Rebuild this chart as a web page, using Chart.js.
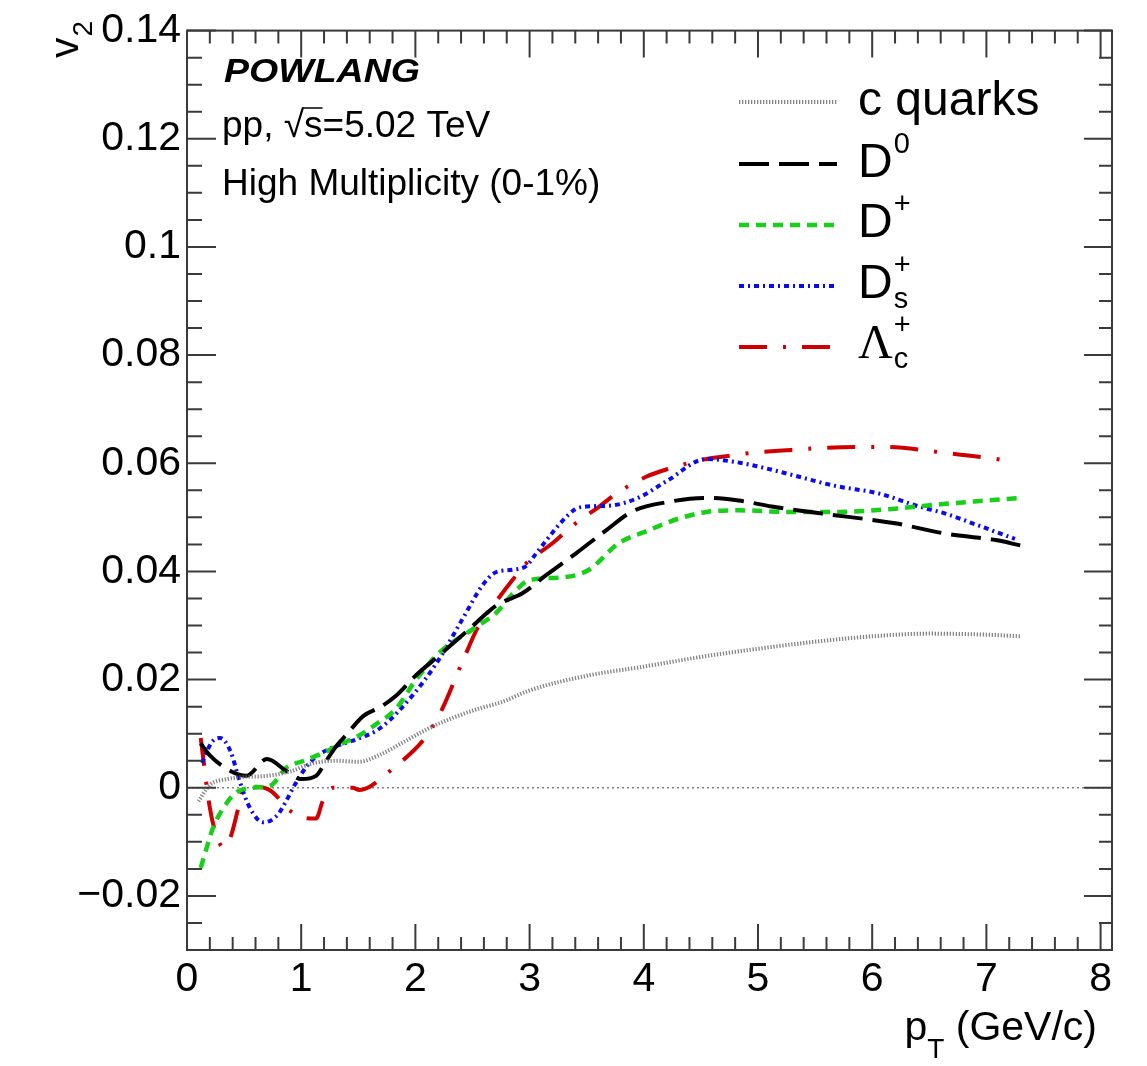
<!DOCTYPE html>
<html>
<head>
<meta charset="utf-8">
<script src="https://cdn.jsdelivr.net/npm/chart.js@4.4.1/dist/chart.umd.min.js"></script>
<style>
  html, body { margin: 0; padding: 0; background: #fff; }
  #wrap { width: 1147px; height: 1066px; }
</style>
</head>
<body>
<div id="wrap"><canvas id="v2Chart" width="1147" height="1066"></canvas></div>
<script>
// elliptic flow v2 vs pT: charm quarks and charm hadrons, pp 5.02 TeV high multiplicity

const cQuarkPt = [0.1, 0.2, 0.35, 0.5, 0.7, 0.9, 1.1, 1.3, 1.5, 1.7, 1.9, 2.1, 2.3, 2.55, 2.75, 3.0, 3.5, 4.0, 4.5, 5.0, 5.5, 6.0, 6.5, 7.0, 7.3];
const cQuarkV2 = [-0.0025, 0.0005, 0.0016, 0.002, 0.0022, 0.003, 0.0045, 0.005, 0.0048, 0.0062, 0.0085, 0.0108, 0.0127, 0.0146, 0.0158, 0.018, 0.0207, 0.0224, 0.0242, 0.0257, 0.027, 0.028, 0.0285, 0.0283, 0.028];

const d0Pt = [0.12, 0.2, 0.38, 0.52, 0.7, 0.87, 1.0, 1.13, 1.22, 1.3, 1.4, 1.54, 1.7, 1.83, 2.01, 2.21, 2.47, 2.71, 2.94, 3.15, 3.41, 3.67, 3.9, 4.2, 4.55, 4.83, 5.12, 5.56, 6.2, 6.64, 7.08, 7.3];
const d0V2 = [0.0082, 0.006, 0.0031, 0.0022, 0.0053, 0.0031, 0.0016, 0.0022, 0.005, 0.0075, 0.0099, 0.0132, 0.015, 0.017, 0.0209, 0.0245, 0.0293, 0.0337, 0.036, 0.0394, 0.0434, 0.0476, 0.0511, 0.0528, 0.0536, 0.0531, 0.052, 0.0507, 0.0489, 0.047, 0.0458, 0.0448];

const dPlusPt = [0.12, 0.23, 0.32, 0.43, 0.58, 0.73, 0.87, 1.01, 1.19, 1.34, 1.51, 1.66, 1.83, 2.01, 2.21, 2.5, 2.71, 2.88, 3.0, 3.29, 3.52, 3.78, 4.02, 4.31, 4.55, 4.83, 5.27, 5.71, 6.2, 6.64, 7.0, 7.3];
const dPlusV2 = [-0.0148, -0.0073, -0.0037, -0.0009, 0.0, 0.0004, 0.0037, 0.0049, 0.0064, 0.008, 0.0097, 0.0118, 0.0146, 0.0201, 0.025, 0.0293, 0.0324, 0.0365, 0.0384, 0.0389, 0.0403, 0.0452, 0.0474, 0.0498, 0.051, 0.0513, 0.051, 0.051, 0.0516, 0.0525, 0.0531, 0.0536];

const dsPt = [0.13, 0.22, 0.29, 0.38, 0.46, 0.55, 0.67, 0.79, 0.87, 0.94, 1.05, 1.16, 1.31, 1.49, 1.69, 1.98, 2.19, 2.41, 2.59, 2.7, 2.85, 2.97, 3.06, 3.29, 3.4, 3.5, 3.72, 3.96, 4.2, 4.55, 4.75, 4.98, 5.27, 5.68, 6.06, 6.41, 6.64, 6.93, 7.25];
const dsV2 = [0.0046, 0.0085, 0.0092, 0.0068, 0.0013, -0.0037, -0.0064, -0.0051, -0.0024, 0.0004, 0.004, 0.0062, 0.0077, 0.009, 0.011, 0.0172, 0.0232, 0.0311, 0.0375, 0.0398, 0.0403, 0.041, 0.0434, 0.0494, 0.0515, 0.052, 0.0522, 0.0537, 0.0567, 0.0608, 0.0604, 0.0595, 0.058, 0.0558, 0.0544, 0.052, 0.0507, 0.0485, 0.046];

const lambdaPt = [0.12, 0.2, 0.26, 0.32, 0.38, 0.45, 0.5, 0.6, 0.73, 0.9, 1.01, 1.13, 1.19, 1.28, 1.45, 1.51, 1.6, 1.8, 1.95, 2.06, 2.21, 2.41, 2.56, 2.68, 2.85, 2.97, 3.2, 3.38, 3.61, 3.76, 4.02, 4.22, 4.55, 4.72, 4.98, 5.18, 5.53, 5.9, 6.12, 6.61, 7.08, 7.25];
const lambdaV2 = [0.0092, -0.0037, -0.009, -0.011, -0.0092, -0.0037, 0.0002, 0.0002, -0.0005, -0.0042, -0.0055, -0.0057, -0.0024, 0.0, 0.0, -0.0004, 0.0002, 0.0035, 0.0062, 0.0086, 0.0135, 0.0232, 0.0302, 0.0337, 0.0384, 0.0415, 0.0452, 0.0485, 0.052, 0.0544, 0.0575, 0.059, 0.0608, 0.0613, 0.062, 0.0623, 0.0628, 0.063, 0.063, 0.062, 0.0608, 0.0602];

const xTicks = [0, 1, 2, 3, 4, 5, 6, 7, 8];
const xTickLabels = ['0', '1', '2', '3', '4', '5', '6', '7', '8'];
const yTicks = [-0.02, 0, 0.02, 0.04, 0.06, 0.08, 0.1, 0.12, 0.14];
const yTickLabels = ['\u22120.02', '0', '0.02', '0.04', '0.06', '0.08', '0.1', '0.12', '0.14'];

const seriesNames = ['c quarks', 'D', 'D', 'D', '\u039b'];
const seriesSup = ['', '0', '+', '+', '+'];
const seriesSub = ['', '', '', 's', 'c'];

const SANS = '"Liberation Sans", Arial, Helvetica, sans-serif';
const SERIF = '"Liberation Serif", "DejaVu Serif", serif';

function toPoints(xs, ys) {
  return xs.map((x, i) => ({ x: x, y: ys[i] }));
}

// draws "Name^{sup}_{sub}" the way ROOT latex does
function drawRich(ctx, x, base, name, sup, sub, size) {
  ctx.font = (name === '\u039b' ? size + 'px ' + SERIF : size + 'px ' + SANS);
  ctx.fillText(name, x, base);
  const w = ctx.measureText(name).width;
  ctx.font = Math.round(size * 0.6) + 'px ' + SANS;
  if (sup) ctx.fillText(sup, x + w + 1, base - 24);
  if (sub) ctx.fillText(sub, x + w + 1, base + 10);
}

const rootFrame = {
  id: 'rootFrame',
  beforeDatasetsDraw(chart) {
    const { ctx, chartArea } = chart;
    const y0 = chart.scales.y.getPixelForValue(0);
    ctx.save();
    ctx.strokeStyle = '#808080';
    ctx.lineWidth = 1.5;
    ctx.setLineDash([2, 3]);
    ctx.beginPath();
    ctx.moveTo(chartArea.left, y0);
    ctx.lineTo(chartArea.right, y0);
    ctx.stroke();
    ctx.restore();
  },
  afterDraw(chart) {
    const { ctx, chartArea } = chart;
    const { left, right, top, bottom } = chartArea;
    const xs = chart.scales.x, ys = chart.scales.y;
    ctx.save();

    // frame
    ctx.strokeStyle = '#3a3a3a';
    ctx.lineWidth = 2;
    ctx.strokeRect(left, top, right - left, bottom - top);

    // inward ticks on all four sides
    ctx.beginPath();
    for (let k = 0; k <= 40; k++) {
      const px = xs.getPixelForValue(k * 0.2);
      const major = k % 5 === 0;
      ctx.moveTo(px, bottom); ctx.lineTo(px, bottom - (major ? 26 : 13));
      ctx.moveTo(px, top); ctx.lineTo(px, top + (major ? 27 : 13));
    }
    for (let k = -6; k <= 28; k++) {
      const py = ys.getPixelForValue(k * 0.005);
      const major = k % 4 === 0;
      ctx.moveTo(left, py); ctx.lineTo(left + (major ? 29 : 15), py);
      ctx.moveTo(right, py); ctx.lineTo(right - (major ? 28 : 13), py);
    }
    ctx.stroke();

    ctx.fillStyle = '#000';
    ctx.textAlign = 'left';
    ctx.textBaseline = 'alphabetic';

    // model label and collision system
    ctx.save();
    ctx.font = 'italic bold 33px ' + SANS;
    const wPow = ctx.measureText('POWLANG').width;
    ctx.translate(224, 82);
    ctx.scale(196 / wPow, 1);
    ctx.fillText('POWLANG', 0, 0);
    ctx.restore();

    ctx.font = '37px ' + SANS;
    ctx.fillText('pp, \u221as=5.02 TeV', 222, 137);
    const sx0 = 222 + ctx.measureText('pp, \u221a').width;
    const sx1 = 222 + ctx.measureText('pp, \u221as').width;
    ctx.lineWidth = 1.5;
    ctx.strokeStyle = '#000';
    ctx.setLineDash([]);
    ctx.beginPath();
    ctx.moveTo(sx0 - 2, 108); ctx.lineTo(sx1, 108);
    ctx.stroke();
    ctx.fillText('High Multiplicity (0-1%)', 222, 195);

    // legend
    const rowLine = [102, 164, 225, 286, 347];
    const rowBase = [115, 177, 237, 298, 358];
    chart.data.datasets.forEach((ds, i) => {
      ctx.save();
      ctx.strokeStyle = ds.borderColor;
      ctx.lineWidth = ds.borderWidth;
      ctx.setLineDash(ds.borderDash || []);
      ctx.beginPath();
      ctx.moveTo(739, rowLine[i]); ctx.lineTo(837, rowLine[i]);
      ctx.stroke();
      ctx.restore();
      drawRich(ctx, 858, rowBase[i], seriesNames[i], seriesSup[i], seriesSub[i], 48);
    });

    // x title: p_T (GeV/c), right aligned to the axis end
    ctx.font = '41px ' + SANS;
    const wp = ctx.measureText('p').width;
    const rest = ' (GeV/c)';
    const wRest = ctx.measureText(rest).width;
    ctx.font = '28px ' + SANS;
    const wT = ctx.measureText('T').width;
    const tx = 1097 - (wp + wT + wRest);
    ctx.font = '41px ' + SANS;
    ctx.fillText('p', tx, 1040);
    ctx.font = '28px ' + SANS;
    ctx.fillText('T', tx + wp, 1058);
    ctx.font = '41px ' + SANS;
    ctx.fillText(rest, tx + wp + wT, 1040);

    // y title: v_2, rotated
    ctx.save();
    ctx.translate(78, 58);
    ctx.rotate(-Math.PI / 2);
    ctx.font = '41px ' + SANS;
    ctx.fillText('v', 0, 0);
    const wv = ctx.measureText('v').width;
    ctx.font = '28px ' + SANS;
    ctx.fillText('2', wv + 1, 14);
    ctx.restore();

    ctx.restore();
  }
};

const ctx = document.getElementById('v2Chart').getContext('2d');
new Chart(ctx, {
  type: 'line',
  data: {
    datasets: [
      {
        label: 'c quarks',
        data: toPoints(cQuarkPt, cQuarkV2),
        borderColor: 'rgba(110,110,110,0.85)',
        borderWidth: 4,
        borderDash: [1.3, 1.7]
      },
      {
        label: 'D0',
        data: toPoints(d0Pt, d0V2),
        borderColor: '#000000',
        borderWidth: 4,
        borderDash: [30, 10]
      },
      {
        label: 'D+',
        data: toPoints(dPlusPt, dPlusV2),
        borderColor: '#19d019',
        borderWidth: 4.5,
        borderDash: [10, 7]
      },
      {
        label: 'Ds+',
        data: toPoints(dsPt, dsV2),
        borderColor: '#0a0af0',
        borderWidth: 4,
        borderDash: [5, 4, 2, 4]
      },
      {
        label: 'Lc+',
        data: toPoints(lambdaPt, lambdaV2),
        borderColor: '#d00000',
        borderWidth: 4,
        borderDash: [28, 16, 3, 16]
      }
    ]
  },
  options: {
    responsive: false,
    animation: false,
    devicePixelRatio: 1,
    parsing: false,
    elements: {
      point: { radius: 0, hoverRadius: 0 },
      line: { cubicInterpolationMode: 'monotone', fill: false }
    },
    layout: { padding: { top: 22, right: 35, left: 0, bottom: 0 } },
    plugins: {
      legend: { display: false },
      tooltip: { enabled: false }
    },
    scales: {
      x: {
        type: 'linear',
        min: 0,
        max: 8.1,
        afterBuildTicks: s => { s.ticks = xTicks.map(v => ({ value: v })); },
        afterFit: s => { s.height = 116; },
        grid: { display: false, drawTicks: false },
        border: { display: false },
        ticks: {
          autoSkip: false,
          maxRotation: 0,
          padding: 5,
          color: '#000',
          font: { family: SANS, size: 41 },
          callback: (v, i) => xTickLabels[i]
        }
      },
      y: {
        type: 'linear',
        min: -0.03,
        max: 0.14,
        afterBuildTicks: s => { s.ticks = yTicks.map(v => ({ value: v })); },
        afterFit: s => { s.width = 187; },
        grid: { display: false, drawTicks: false },
        border: { display: false },
        ticks: {
          autoSkip: false,
          padding: 6,
          color: '#000',
          font: { family: SANS, size: 41 },
          callback: (v, i) => yTickLabels[i]
        }
      }
    }
  },
  plugins: [rootFrame]
});
</script>
</body>
</html>
